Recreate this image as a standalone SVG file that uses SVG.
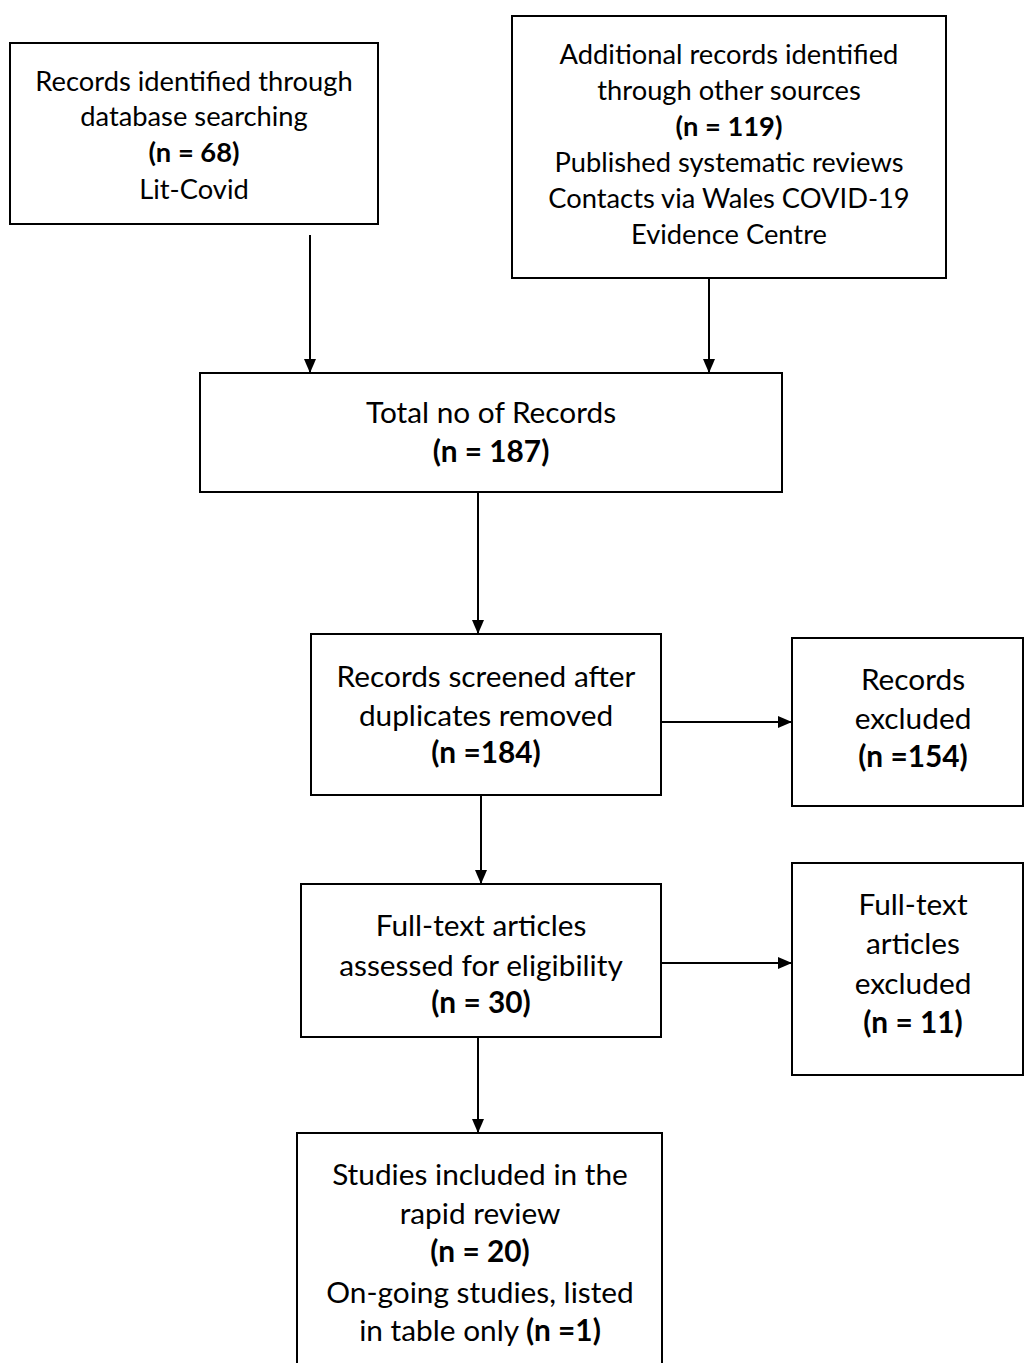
<svg xmlns="http://www.w3.org/2000/svg" width="1024" height="1363" viewBox="0 0 1024 1363">
<defs>
<marker id="ah" viewBox="0 0 14 12" refX="14" refY="6" markerWidth="14" markerHeight="12" markerUnits="userSpaceOnUse" orient="auto">
<path d="M0,0 L14,6 L0,12 Z" fill="#000"/>
</marker>
<style>
.box{fill:#fff;stroke:#000;stroke-width:2}
.t{font-family:Lato,"Liberation Sans",sans-serif;font-size:27.3px;fill:#000;text-anchor:middle}
.l{font-size:29.8px}
.b{font-weight:bold}
.c{stroke:#000;stroke-width:2;fill:none;marker-end:url(#ah)}
</style>
</defs>
<rect width="1024" height="1363" fill="#fff"/>
<g id="connectors">
<line class="c" x1="310" y1="235" x2="310" y2="373"/>
<line class="c" x1="709" y1="278" x2="709" y2="373"/>
<line class="c" x1="478" y1="492" x2="478" y2="634"/>
<line class="c" x1="661" y1="722" x2="792" y2="722"/>
<line class="c" x1="481" y1="795" x2="481" y2="884"/>
<line class="c" x1="661" y1="963" x2="792" y2="963"/>
<line class="c" x1="478" y1="1037" x2="478" y2="1133"/>
</g>
<g id="n1">
<rect class="box" x="10" y="43" width="368" height="181"/>
<text class="t" x="194" y="91">Records identified through</text>
<text class="t" x="194" y="126">database searching</text>
<text class="t b" x="194" y="162">(n = 68)</text>
<text class="t" x="194" y="199">Lit-Covid</text>
</g>
<g id="n2">
<rect class="box" x="512" y="16" width="434" height="262"/>
<text class="t" x="729" y="64">Additional records identified</text>
<text class="t" x="729" y="100">through other sources</text>
<text class="t b" x="729" y="136">(n = 119)</text>
<text class="t" x="729" y="172">Published systematic reviews</text>
<text class="t" x="729" y="208">Contacts via Wales COVID-19</text>
<text class="t" x="729" y="244">Evidence Centre</text>
</g>
<g id="n3">
<rect class="box" x="200" y="373" width="582" height="119"/>
<text class="t l" x="491" y="423">Total no of Records</text>
<text class="t l b" x="491" y="462">(n = 187)</text>
</g>
<g id="n4">
<rect class="box" x="311" y="634" width="350" height="161"/>
<text class="t l" x="486" y="687">Records screened after</text>
<text class="t l" x="486" y="726">duplicates removed</text>
<text class="t l b" x="486" y="763">(n =184)</text>
</g>
<g id="n5">
<rect class="box" x="792" y="638" width="231" height="168"/>
<text class="t l" x="913" y="690">Records</text>
<text class="t l" x="913" y="729">excluded</text>
<text class="t l b" x="913" y="767">(n =154)</text>
</g>
<g id="n6">
<rect class="box" x="301" y="884" width="360" height="153"/>
<text class="t l" x="481" y="936">Full-text articles</text>
<text class="t l" x="481" y="976">assessed for eligibility</text>
<text class="t l b" x="481" y="1013">(n = 30)</text>
</g>
<g id="n7">
<rect class="box" x="792" y="863" width="231" height="212"/>
<text class="t l" x="913" y="915">Full-text</text>
<text class="t l" x="913" y="954">articles</text>
<text class="t l" x="913" y="994">excluded</text>
<text class="t l b" x="913" y="1033">(n = 11)</text>
</g>
<g id="n8">
<rect class="box" x="297" y="1133" width="365" height="260"/>
<text class="t l" x="480" y="1185">Studies included in the</text>
<text class="t l" x="480" y="1224">rapid review</text>
<text class="t l b" x="480" y="1262">(n = 20)</text>
<text class="t l" x="480" y="1303">On-going studies, listed</text>
<text class="t l" x="480" y="1341">in table only <tspan class="b">(n =1)</tspan></text>
</g>
</svg>
